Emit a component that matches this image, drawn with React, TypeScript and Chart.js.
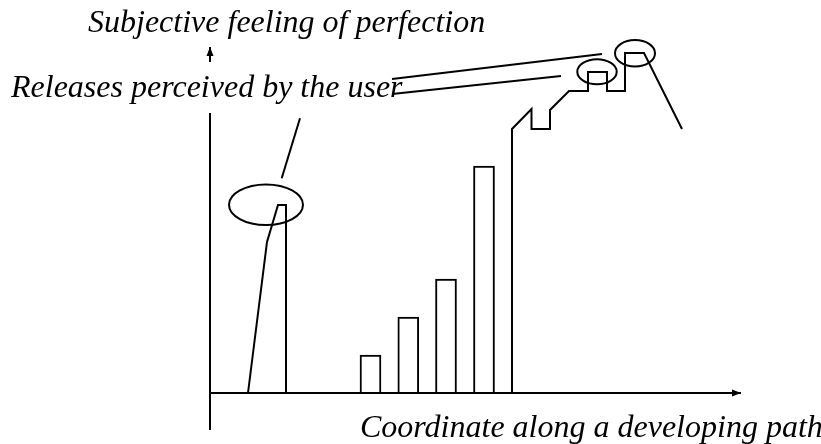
import React, { useEffect, useRef } from "react";
import { Chart, registerables } from "chart.js";

Chart.register(...registerables);

// ---- Diagram data (units: origin at the crossing of the two axes) ----
// Axes
const axisYLowerX = [0, 0];
const axisYLowerY = [-37, 280];
const axisYArrowX = [0, 0];
const axisYArrowY = [331, 346];
const axisXX = [0, 531];
const axisXY = [0, 0];

// First release perceived by the user (left peak)
const releaseX = [38, 57, 68, 76, 76];
const releaseY = [0, 151, 188, 188, 0];

// Intermediate releases (bars)
const barCenters = [160.5, 198.3, 236, 274];
const barHeights = [38, 76, 114, 227];

// Staircase of later development
const stairX = [302, 302, 321.5, 321.5, 340, 340, 359, 378, 378, 397, 397, 415, 415, 434, 472];
const stairY = [0, 264, 284, 264, 264, 283, 302, 302, 321, 321, 302, 302, 340, 340, 264];

// Pointer lines from the label to the marked releases
const pointer1X = [71.7, 90];
const pointer1Y = [214.7, 274.7];
const pointer2X = [182, 392];
const pointer2Y = [314, 339];
const pointer3X = [182, 351];
const pointer3Y = [299, 317];

// Ellipses marking perceived releases
const ellipseCX = [56, 387, 425];
const ellipseCY = [188.3, 321.2, 339.7];
const ellipseRX = [37, 19.7, 20];
const ellipseRY = [20.3, 12.5, 13.3];

// Text labels
const labelTexts = [
  "Subjective feeling of perfection",
  "Releases perceived by the user",
  "Coordinate along a developing path",
];
const labelX = [-122, -199, 150];
const labelY = [361, 296, -44];

const X_MIN = -210;
const X_MAX = 611;
const Y_MIN = -51;
const Y_MAX = 393;

const zip = (xs: number[], ys: number[]) => xs.map((x, i) => ({ x, y: ys[i] }));

const lineStyle = {
  type: "line" as const,
  borderColor: "#000",
  borderWidth: 2,
  pointRadius: 0,
  pointHoverRadius: 0,
  tension: 0,
  fill: false,
  borderJoinStyle: "miter" as const,
  borderCapStyle: "butt" as const,
};

const diagramPlugin = {
  id: "diagramExtras",
  afterDatasetsDraw(chart: any) {
    const { ctx, scales } = chart;
    const xs = scales.x;
    const ys = scales.y;
    ctx.save();
    // ellipses
    ctx.strokeStyle = "#000";
    ctx.lineWidth = 2;
    for (let i = 0; i < ellipseCX.length; i++) {
      const cx = xs.getPixelForValue(ellipseCX[i]);
      const cy = ys.getPixelForValue(ellipseCY[i]);
      const rx = Math.abs(xs.getPixelForValue(ellipseCX[i] + ellipseRX[i]) - cx);
      const ry = Math.abs(ys.getPixelForValue(ellipseCY[i] + ellipseRY[i]) - cy);
      ctx.beginPath();
      ctx.ellipse(cx, cy, rx, ry, 0, 0, Math.PI * 2);
      ctx.stroke();
    }
    // arrowheads at the end of flagged datasets
    ctx.fillStyle = "#000";
    chart.data.datasets.forEach((ds: any, di: number) => {
      if (!ds.arrowEnd) return;
      const pts = chart.getDatasetMeta(di).data;
      const a = pts[pts.length - 2];
      const b = pts[pts.length - 1];
      const ang = Math.atan2(b.y - a.y, b.x - a.x);
      const len = 9;
      const hw = 3.5;
      ctx.beginPath();
      ctx.moveTo(b.x, b.y);
      ctx.lineTo(
        b.x - len * Math.cos(ang) + hw * Math.sin(ang),
        b.y - len * Math.sin(ang) - hw * Math.cos(ang)
      );
      ctx.lineTo(
        b.x - len * Math.cos(ang) - hw * Math.sin(ang),
        b.y - len * Math.sin(ang) + hw * Math.cos(ang)
      );
      ctx.closePath();
      ctx.fill();
    });
    // labels
    ctx.font = 'italic 32px "Liberation Serif", "Times New Roman", serif';
    ctx.textAlign = "left";
    ctx.textBaseline = "alphabetic";
    for (let i = 0; i < labelTexts.length; i++) {
      ctx.fillText(labelTexts[i], xs.getPixelForValue(labelX[i]), ys.getPixelForValue(labelY[i]));
    }
    ctx.restore();
  },
};

export default function App() {
  const canvasRef = useRef<HTMLCanvasElement | null>(null);

  useEffect(() => {
    const canvas = canvasRef.current;
    if (!canvas) return;
    const chart = new Chart(canvas, {
      type: "line",
      data: {
        datasets: [
          { ...lineStyle, data: zip(axisYLowerX, axisYLowerY) },
          { ...lineStyle, data: zip(axisYArrowX, axisYArrowY), arrowEnd: true } as any,
          { ...lineStyle, data: zip(axisXX, axisXY), arrowEnd: true } as any,
          { ...lineStyle, data: zip(releaseX, releaseY) },
          {
            type: "bar",
            data: zip(barCenters, barHeights),
            backgroundColor: "#fff",
            borderColor: "#000",
            borderWidth: 2,
            borderSkipped: "start",
            barThickness: 21,
          } as any,
          { ...lineStyle, data: zip(stairX, stairY) },
          { ...lineStyle, data: zip(pointer1X, pointer1Y) },
          { ...lineStyle, data: zip(pointer2X, pointer2Y) },
          { ...lineStyle, data: zip(pointer3X, pointer3Y) },
        ],
      },
      options: {
        animation: false,
        responsive: false,
        devicePixelRatio: 1,
        events: [],
        layout: { padding: 0 },
        plugins: {
          legend: { display: false },
          tooltip: { enabled: false },
          title: { display: false },
        },
        scales: {
          x: { type: "linear", min: X_MIN, max: X_MAX, display: false, offset: false },
          y: { type: "linear", min: Y_MIN, max: Y_MAX, display: false },
        },
      },
      plugins: [diagramPlugin],
    });
    return () => chart.destroy();
  }, []);

  return (
    <div style={{ position: "fixed", left: 0, top: 0, width: 821, height: 444, background: "#fff" }}>
      <canvas ref={canvasRef} width={821} height={444} style={{ display: "block" }} />
    </div>
  );
}
